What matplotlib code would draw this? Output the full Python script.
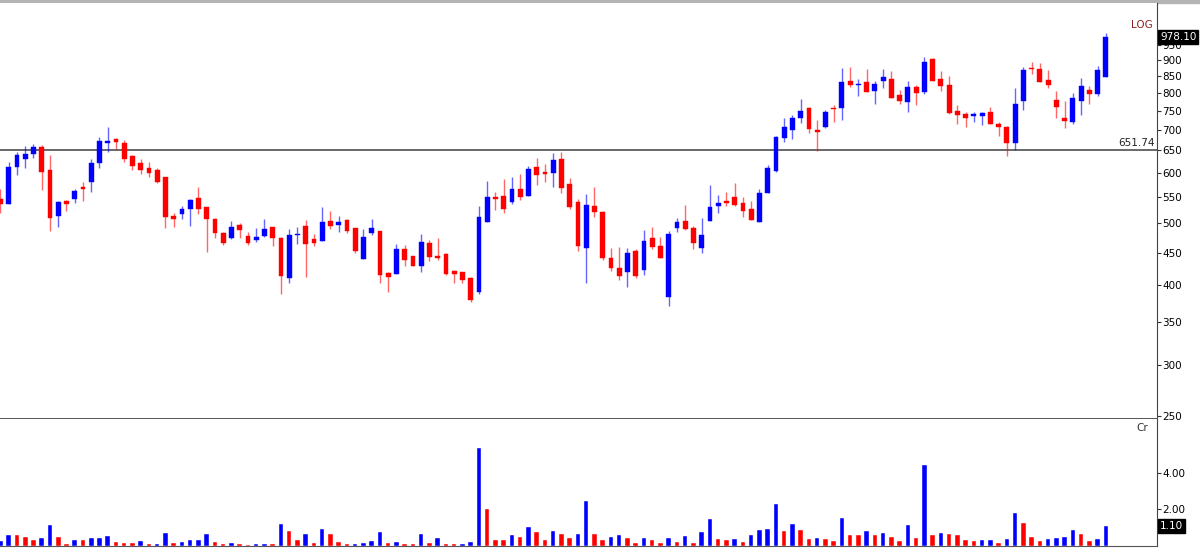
import matplotlib
matplotlib.use("Agg")
import matplotlib.pyplot as plt
from matplotlib.ticker import FuncFormatter, NullLocator, NullFormatter
from matplotlib.transforms import blended_transform_factory

opens = [546, 536, 612, 630, 642, 658, 606, 514, 542, 546,
         570, 580, 621, 668, 677, 668, 637, 621, 610, 606,
         591, 514, 516, 526, 548, 530, 508, 483, 474, 497,
         478, 471, 478, 493, 474, 411, 479, 495, 473, 469,
         504, 497, 506, 491, 440, 483, 486, 418, 417, 456,
         444, 429, 466, 444, 448, 421, 420, 410, 390, 503,
         550, 552, 540, 566, 552, 612, 601, 599, 630, 576,
         540, 458, 532, 520, 441, 426, 420, 453, 423, 474,
         461, 383, 491, 504, 491, 458, 504, 532, 542, 550,
         538, 526, 503, 558, 604, 680, 699, 730, 757, 699,
         707, 757, 757, 834, 823, 831, 805, 834, 840, 794,
         774, 815, 802, 903, 840, 822, 749, 741, 736, 736,
         746, 715, 707, 668, 776, 874, 871, 837, 779, 730,
         720, 776, 808, 796, 846]
highs = [566, 623, 647, 661, 665, 663, 640, 542, 544, 566,
         580, 630, 682, 707, 680, 675, 640, 630, 623, 610,
         591, 518, 532, 546, 570, 530, 510, 485, 504, 500,
         485, 491, 508, 493, 476, 490, 493, 506, 481, 530,
         522, 514, 508, 491, 490, 508, 486, 420, 464, 463,
         444, 481, 471, 474, 450, 423, 420, 412, 532, 582,
         560, 587, 591, 597, 615, 633, 619, 644, 647, 589,
         546, 556, 570, 522, 458, 459, 458, 456, 488, 493,
         476, 486, 510, 534, 495, 510, 574, 554, 560, 578,
         550, 542, 566, 617, 684, 730, 737, 782, 760, 725,
         752, 765, 874, 877, 840, 871, 834, 871, 864, 808,
         834, 822, 910, 907, 864, 849, 765, 746, 746, 746,
         760, 720, 709, 813, 877, 893, 890, 868, 805, 776,
         799, 843, 818, 880, 990]
lows = [518, 536, 595, 610, 633, 564, 486, 493, 522, 538,
        542, 560, 610, 647, 654, 623, 606, 597, 591, 578,
        491, 493, 508, 495, 516, 451, 474, 463, 473, 474,
        463, 468, 476, 461, 387, 403, 464, 412, 461, 469,
        490, 485, 483, 450, 440, 479, 403, 390, 417, 429,
        429, 420, 436, 438, 415, 404, 404, 377, 387, 503,
        524, 518, 536, 544, 552, 574, 580, 570, 558, 526,
        453, 403, 512, 438, 421, 408, 398, 411, 415, 455,
        441, 371, 485, 488, 455, 450, 504, 518, 532, 532,
        512, 506, 503, 558, 601, 670, 677, 717, 692, 649,
        704, 720, 725, 815, 791, 802, 768, 813, 785, 767,
        746, 765, 796, 834, 805, 741, 715, 707, 720, 712,
        715, 685, 637, 651, 752, 855, 831, 813, 730, 704,
        715, 739, 768, 791, 846]
closes = [536, 612, 640, 642, 658, 601, 510, 540, 536, 562,
          566, 621, 672, 672, 670, 630, 615, 606, 599, 580,
          512, 508, 526, 544, 526, 508, 483, 466, 493, 488,
          466, 476, 490, 474, 414, 479, 481, 464, 466, 503,
          495, 503, 486, 453, 476, 491, 415, 412, 456, 438,
          429, 468, 443, 441, 417, 417, 408, 379, 512, 550,
          546, 526, 566, 550, 608, 595, 597, 628, 568, 530,
          461, 534, 520, 441, 426, 414, 450, 414, 469, 459,
          441, 481, 503, 490, 466, 479, 530, 538, 538, 534,
          522, 506, 558, 610, 682, 707, 730, 749, 701, 694,
          747, 755, 831, 822, 826, 802, 826, 846, 785, 776,
          815, 799, 893, 834, 818, 743, 739, 730, 741, 744,
          715, 707, 668, 768, 868, 871, 831, 822, 760, 722,
          785, 818, 796, 868, 978.1]

# volume in Cr, with the bar colour used by the terminal (1 = blue, 0 = red)
volumes = [0.30, 0.61, 0.61, 0.50, 0.35, 0.44, 1.17, 0.50, 0.13, 0.35,
           0.35, 0.41, 0.41, 0.56, 0.24, 0.19, 0.19, 0.30, 0.09, 0.13,
           0.70, 0.19, 0.24, 0.35, 0.35, 0.65, 0.24, 0.09, 0.19, 0.09,
           0.04, 0.13, 0.13, 0.09, 1.22, 0.81, 0.35, 0.65, 0.19, 0.91,
           0.65, 0.24, 0.13, 0.13, 0.19, 0.30, 0.76, 0.19, 0.24, 0.13,
           0.09, 0.65, 0.19, 0.41, 0.13, 0.13, 0.13, 0.24, 5.33, 2.00,
           0.35, 0.35, 0.61, 0.50, 1.02, 0.76, 0.35, 0.81, 0.65, 0.44,
           0.65, 2.46, 0.65, 0.33, 0.48, 0.59, 0.44, 0.17, 0.44, 0.33,
           0.17, 0.44, 0.24, 0.54, 0.17, 0.74, 1.46, 0.39, 0.33, 0.39,
           0.22, 0.59, 0.85, 0.94, 2.28, 0.80, 1.20, 0.85, 0.39, 0.44,
           0.39, 0.30, 1.52, 0.59, 0.59, 0.80, 0.59, 0.69, 0.48, 0.28,
           1.17, 0.44, 4.41, 0.59, 0.69, 0.63, 0.59, 0.33, 0.28, 0.33,
           0.33, 0.17, 0.39, 1.83, 1.26, 0.48, 0.28, 0.39, 0.44, 0.48,
           0.85, 0.63, 0.28, 0.39, 1.10]
vol_up = [1, 1, 0, 0, 0, 1, 1, 0, 0, 1,
          0, 1, 1, 1, 0, 0, 0, 1, 0, 1,
          1, 0, 1, 1, 1, 1, 0, 0, 1, 0,
          0, 1, 1, 0, 1, 0, 0, 1, 0, 1,
          0, 0, 0, 1, 1, 1, 1, 0, 1, 0,
          0, 1, 0, 1, 0, 0, 1, 1, 1, 0,
          0, 0, 1, 0, 1, 0, 0, 1, 0, 0,
          1, 1, 0, 0, 1, 1, 0, 0, 1, 0,
          0, 1, 0, 1, 0, 1, 1, 0, 0, 1,
          0, 1, 1, 1, 1, 0, 1, 0, 0, 1,
          0, 0, 1, 0, 0, 1, 0, 1, 0, 0,
          1, 0, 1, 0, 1, 0, 0, 0, 0, 1,
          1, 0, 1, 1, 0, 0, 0, 1, 1, 1,
          1, 0, 0, 1, 1]

price_ticks = [250, 300, 350, 400, 450, 500, 550, 600, 650, 700, 750, 800, 850, 900, 950]
vol_ticks = [2.0, 4.0]
ref_level = 651.74
last_close = closes[-1]
last_vol = volumes[-1]

UP, DOWN = '#0000ff', '#ff0000'
W, H = 1200, 550
plt.rcParams['font.family'] = ['DejaVu Sans']
fs = 7.5


def px_rect(x0, y0, x1, y1):
    return [x0 / W, 1 - y1 / H, (x1 - x0) / W, (y1 - y0) / H]


fig = plt.figure(figsize=(W / 100, H / 100), dpi=100)
ax = fig.add_axes(px_rect(0, 3, 1157, 419))
axv = fig.add_axes(px_rect(0, 419, 1157, 546), sharex=ax)

n = len(closes)
xs = list(range(n))
cols = [UP if c >= o else DOWN for o, c in zip(opens, closes)]

# wicks, then bodies
ax.vlines(xs, lows, highs, colors=cols, linewidth=1, alpha=0.6, zorder=2)
bottoms = [min(o, c) for o, c in zip(opens, closes)]
heights = [max(abs(c - o), 0.6) for o, c in zip(opens, closes)]
ax.bar(xs, heights, bottom=bottoms, width=0.58, color=cols, edgecolor=cols,
       linewidth=0.3, zorder=3)

ax.axhline(ref_level, color='#404040', linewidth=1.1, zorder=1)

ax.set_yscale('log')
ax.set_ylim(247.3, 1104)
ax.set_xlim(-0.06, n - 1 + 6.2)
ax.set_yticks(price_ticks)
ax.yaxis.set_major_formatter(FuncFormatter(lambda v, p: f'{v:.0f}'))
ax.yaxis.set_minor_locator(NullLocator())
ax.yaxis.set_minor_formatter(NullFormatter())
ax.yaxis.tick_right()
ax.tick_params(axis='y', which='major', direction='out', length=3, pad=1,
               labelsize=fs, color='#333333', width=0.8)
ax.tick_params(axis='x', bottom=False, labelbottom=False)
for s in ('top', 'left'):
    ax.spines[s].set_visible(False)
ax.spines['right'].set_color('#444444')
ax.spines['bottom'].set_color('#555555')
ax.spines['bottom'].set_linewidth(1.4)

trans = blended_transform_factory(ax.transAxes, ax.transData)
ax.text(1 + 3 / 1157, last_close, f'{last_close:.2f}', transform=trans,
        ha='left', va='center', color='white', fontsize=fs, zorder=10,
        clip_on=False, bbox=dict(boxstyle='square,pad=0.2', fc='black', ec='black'))
ax.text(1 - 2 / 1157, ref_level * 1.006, f'{ref_level:.2f}', transform=trans,
        ha='right', va='bottom', fontsize=fs, color='#222222')

# volume panel
vcols = [UP if u else DOWN for u in vol_up]
axv.bar(xs, volumes, width=0.55, color=vcols, edgecolor='white', linewidth=0.3)
axv.set_ylim(0, 6.94)
axv.set_yticks(vol_ticks)
axv.yaxis.set_major_formatter(FuncFormatter(lambda v, p: f'{v:.2f}'))
axv.yaxis.tick_right()
axv.tick_params(axis='y', direction='out', length=3, pad=1, labelsize=fs,
                color='#333333', width=0.8)
axv.tick_params(axis='x', bottom=False, labelbottom=False)
for s in ('top', 'left'):
    axv.spines[s].set_visible(False)
axv.spines['right'].set_color('#444444')
axv.spines['bottom'].set_color('#555555')

vtrans = blended_transform_factory(axv.transAxes, axv.transData)
axv.text(1 + 3 / 1157, last_vol, f'{last_vol:.2f}', transform=vtrans,
         ha='left', va='center', color='white', fontsize=fs, zorder=10,
         clip_on=False, bbox=dict(boxstyle='square,pad=0.2', fc='black', ec='black'))

fig.text(1153 / W, 1 - 25 / H, 'LOG', ha='right', va='center', color='#8b2323', fontsize=fs)
fig.text(1148 / W, 1 - 428 / H, 'Cr', ha='right', va='center', color='#333333', fontsize=fs)

# grey strip along the top edge
fig.add_artist(plt.Rectangle((0, 1 - 3 / H), 1, 3 / H, transform=fig.transFigure,
                             color='#b4b4b4', zorder=0))

fig.savefig('out.png', dpi=100)
